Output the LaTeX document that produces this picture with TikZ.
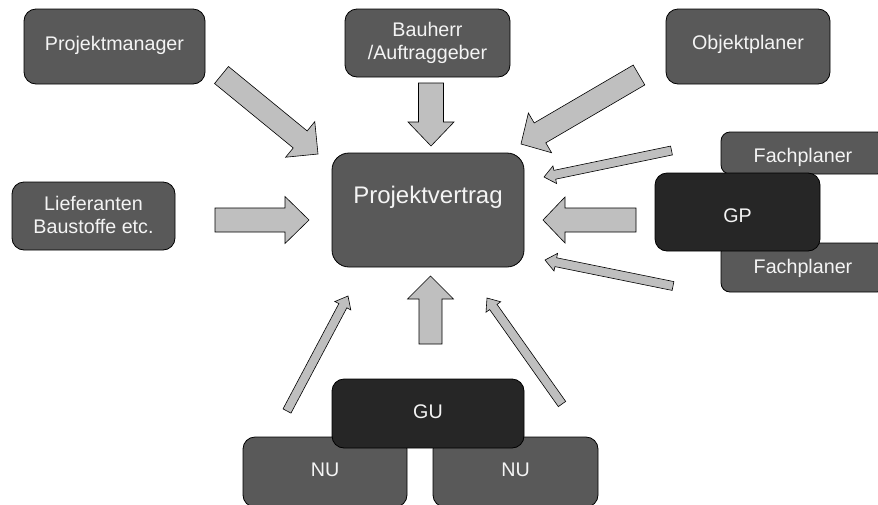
\documentclass[tikz,border=0pt]{standalone}
\usepackage{fontspec}
\setmainfont{Liberation Sans}
\usetikzlibrary{calc}
\definecolor{boxgray}{HTML}{595959}
\definecolor{boxdark}{HTML}{262626}
\definecolor{arrgray}{HTML}{BFBFBF}
\definecolor{txtwhite}{HTML}{F4F4F4}
\tikzset{
  box/.style={draw=black, line width=0.8pt, fill=boxgray, rounded corners=12pt, inner sep=0pt},
  darkbox/.style={box, fill=boxdark},
  lbl/.style={text=txtwhite, font=\fontsize{19.7}{23}\selectfont, align=center, inner sep=0pt},
  bigl/.style={lbl, font=\fontsize{24}{28}\selectfont},
  blockarr/.style={draw=black, line width=0.6pt, fill=arrgray, line join=miter},
}
% #1 tail, #2 tip, #3 half shaft width, #4 half head width, #5 head length
\newcommand\blockarrow[5]{%
  \filldraw[blockarr]
    ($(#1)!#3!90:(#2)$) --
    ($(#2)!#5!(#1)!#3!90:(#2)$) --
    ($(#2)!#5!(#1)!#4!90:(#2)$) --
    (#2) --
    ($(#2)!#5!(#1)!#4!-90:(#2)$) --
    ($(#2)!#5!(#1)!#3!-90:(#2)$) --
    ($(#1)!#3!-90:(#2)$) -- cycle;
}
\begin{document}
\begin{tikzpicture}[x=1pt,y=-1pt]
\path[use as bounding box] (0,0) rectangle (878,504);
\clip (0,0) rectangle (878,504);
\fill[white] (0,0) rectangle (878,504);

% boxes
\node[box, minimum width=181pt, minimum height=75pt] (pm) at (114.5,46.5) {};
\node[lbl] (pmt) at (114.5,45) {Projektmanager};

\node[box, minimum width=165pt, minimum height=68pt] (bh) at (427.5,43) {};
\node[lbl] (bht) at (427.5,42.5) {Bauherr\\/Auftraggeber};

\node[box, minimum width=164pt, minimum height=75pt] (op) at (748,46.5) {};
\node[lbl] (opt) at (748,44) {Objektplaner};

\node[box, rounded corners=17pt, minimum width=192pt, minimum height=114pt] (pv) at (428,210) {};
\node[bigl] (pvt) at (428,197) {Projektvertrag};

\node[box, minimum width=163pt, minimum height=68pt] (lf) at (93.5,216) {};
\node[lbl] (lft) at (93.5,214.5) {Lieferanten\\Baustoffe etc.};

\node[box, rounded corners=9pt, minimum width=165pt, minimum height=42pt] (fp1) at (803.5,153) {};
\node[lbl] (fp1t) at (803,157) {Fachplaner};
\node[box, rounded corners=9pt, minimum width=165pt, minimum height=49pt] (fp2) at (803.5,267.5) {};
\node[lbl] (fp2t) at (803,268) {Fachplaner};
\node[darkbox, minimum width=165pt, minimum height=78pt] (gp) at (737.5,212) {};
\node[lbl] (gpt) at (737.5,216) {GP};

\node[box, minimum width=164pt, minimum height=70pt] (nu1) at (325,472) {};
\node[lbl] (nu1t) at (325,470) {NU};
\node[box, minimum width=165pt, minimum height=70pt] (nu2) at (515.5,472) {};
\node[lbl] (nu2t) at (515.5,470) {NU};
\node[darkbox, minimum width=192pt, minimum height=69pt] (gu) at (428,413.5) {};
\node[lbl] (gut) at (428,412) {GU};

% arrow end points
\coordinate (a1s) at (221.5,75);  \coordinate (a1e) at (318,154);
\coordinate (a2s) at (431,83);    \coordinate (a2e) at (431,146);
\coordinate (a3s) at (639,75);    \coordinate (a3e) at (521,144);
\coordinate (a4s) at (215,220);   \coordinate (a4e) at (309,220);
\coordinate (a5s) at (671.5,150.5); \coordinate (a5e) at (544,177);
\coordinate (a6s) at (636,220);   \coordinate (a6e) at (543,220);
\coordinate (a7s) at (673,286);   \coordinate (a7e) at (545,260);
\coordinate (a8s) at (287,411);   \coordinate (a8e) at (348,296);
\coordinate (a9s) at (430.5,344); \coordinate (a9e) at (430.5,276);
\coordinate (a10s) at (562,404);  \coordinate (a10e) at (487,298);

\blockarrow{a1s}{a1e}{11pt}{23pt}{23pt}
\blockarrow{a2s}{a2e}{12.5pt}{23pt}{24pt}
\blockarrow{a3s}{a3e}{11.5pt}{23pt}{22pt}
\blockarrow{a4s}{a4e}{12pt}{23.5pt}{24pt}
\blockarrow{a5s}{a5e}{4.5pt}{9pt}{11pt}
\blockarrow{a6s}{a6e}{12pt}{23pt}{22pt}
\blockarrow{a7s}{a7e}{4.5pt}{9pt}{11pt}
\blockarrow{a8s}{a8e}{4.5pt}{9pt}{11pt}
\blockarrow{a9s}{a9e}{11.5pt}{23pt}{23pt}
\blockarrow{a10s}{a10e}{4.5pt}{9pt}{11pt}
\end{tikzpicture}
\end{document}
